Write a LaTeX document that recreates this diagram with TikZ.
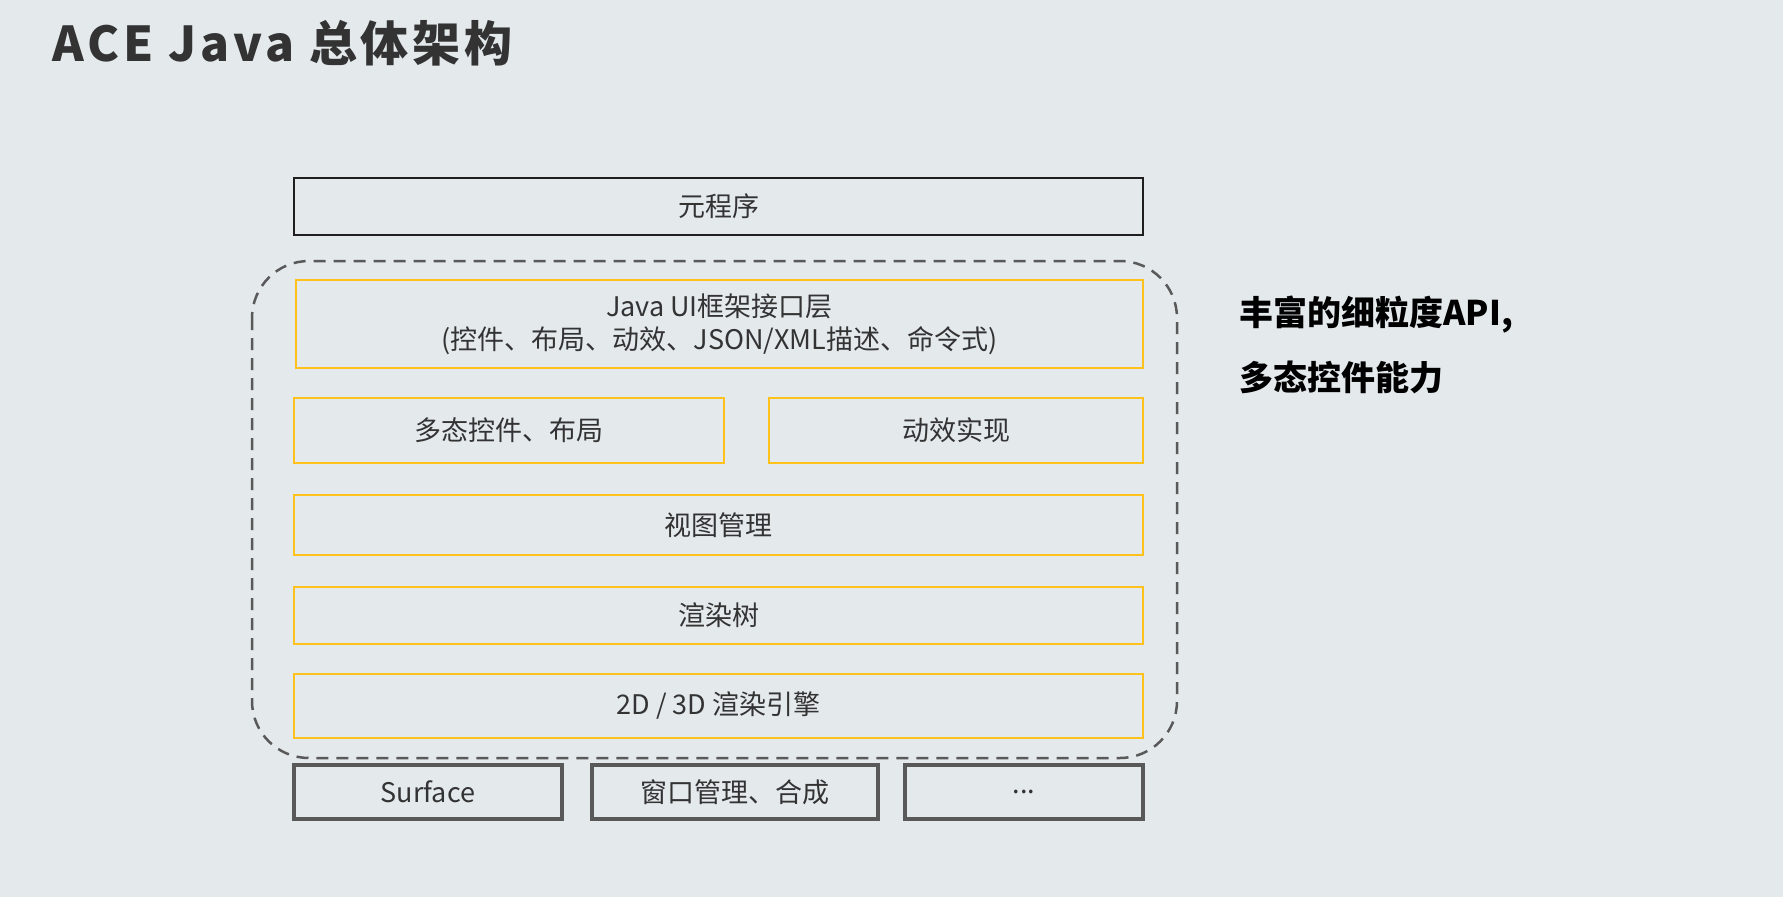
\documentclass[tikz,border=0pt]{standalone}
\usepackage{fontspec}
\setmainfont{Noto Sans CJK SC}
\newfontfamily\titlefont[LetterSpace=8]{Noto Sans CJK SC}
\usetikzlibrary{positioning}
\definecolor{bgcol}{HTML}{E4E9EC}
\definecolor{ylw}{HTML}{FFC21A}
\definecolor{txt}{HTML}{333333}
\definecolor{gry}{HTML}{595959}
\tikzset{
layer/.style = {draw=ylw, line width=2pt, text=txt, inner sep=0pt, outer sep=0pt, align=center,
  font=\fontsize{27}{33}\selectfont},
app/.style   = {layer, draw=black!88, line width=2.5pt},
base/.style  = {layer, draw=gry, line width=3.5pt, minimum height=54pt},
frame/.style = {draw=gry, line width=2.5pt, dash pattern=on 12pt off 8pt, rounded corners=57pt},
note/.style  = {anchor=west, text=black, font=\fontsize{34}{40}\selectfont\bfseries}
}
\begin{document}
\begin{tikzpicture}[x=1pt, y=-1pt, node distance=30pt]
  \fill [bgcol] (0,0) rectangle (1783,897);
  \node [anchor=base west, text=txt, font=\titlefont\fontsize{48}{56}\selectfont\bfseries] (title) at (49,61) {ACE Java 总体架构};

  \node [app, minimum width=849pt, minimum height=57pt]   (prog)    at (718.5,206.5) {元程序};
  \draw [frame] (252,261) rectangle (1177,758);

  \node [layer, minimum width=847pt, minimum height=88pt] (javaui)  at (719.5,324) {Java UI框架接口层\\(控件、布局、动效、JSON/XML描述、命令式)};
  \node [layer, minimum width=430pt, minimum height=65pt] (poly)    at (509,430.5) {多态控件、布局};
  \node [layer, minimum width=374pt, minimum height=65pt, right=45pt of poly] (anim) {动效实现};
  \node [layer, minimum width=849pt, minimum height=60pt] (view)    at (718.5,525) {视图管理};
  \node [layer, minimum width=849pt, minimum height=57pt] (rtree)   at (718.5,615.5) {渲染树};
  \node [layer, minimum width=849pt, minimum height=64pt] (engine)  at (718.5,706) {2D / 3D 渲染引擎};

  \node [base, minimum width=268pt]                       (surface) at (428,792) {Surface};
  \node [base, minimum width=286pt, right=of surface]     (wm)      {窗口管理、合成};
  \node [base, minimum width=238pt, right=27pt of wm]     (etc)     {...};

  \node [note] (note1) at (1236,315) {丰富的细粒度API,};
  \node [note] (note2) at (1236,377) {多态控件能力};
\end{tikzpicture}
\end{document}
